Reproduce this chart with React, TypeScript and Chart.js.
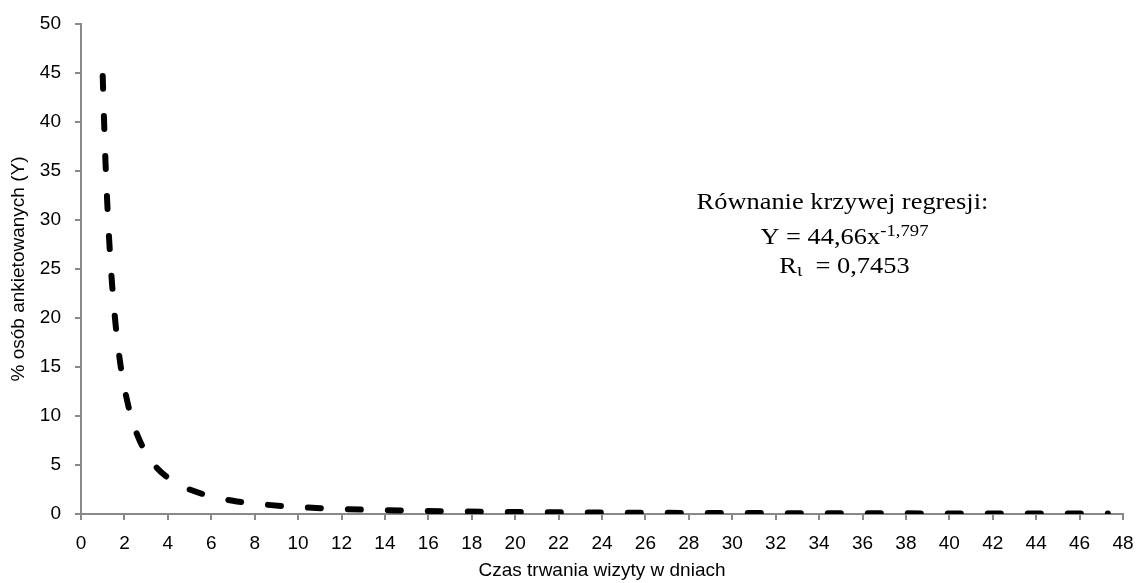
import React, { useEffect, useRef } from 'react';
import { Chart, registerables } from 'chart.js';

Chart.register(...registerables);

// Trend curve: days of visit (x) vs % of respondents (y)
const visitDays = [1, 1.1, 1.2, 1.3, 1.4, 1.5, 1.6, 1.8, 2, 2.25, 2.5, 3, 3.5, 4, 4.5, 5, 6, 7, 8, 10, 12, 14, 17, 20, 24, 28, 32, 36, 40, 44, 47.3];
const respondentsPct = [44.7, 37.6, 32.2, 27.9, 24.4, 21.6, 19.2, 15.5, 12.9, 10.4, 8.6, 6.2, 4.7, 3.7, 3.0, 2.5, 1.8, 1.35, 1.06, 0.71, 0.51, 0.39, 0.27, 0.2, 0.15, 0.11, 0.09, 0.07, 0.06, 0.05, 0.045];

const xRange = [0, 48];
const xStep = 2;
const yRange = [0, 50];
const yStep = 5;

const xAxisTitle = 'Czas trwania wizyty w dniach';
const yAxisTitle = '% osób ankietowanych (Y)';

const noteTitle = 'Równanie krzywej regresji:';
const noteEquation = 'Y = 44,66x';
const noteExponent = '-1,797';
const noteRLetter = 'R';
const noteRSub = 'ι';
const noteRValue = '  = 0,7453';

const AXIS_GRAY = '#898989';
const TICK_FONT = { family: '"Liberation Sans", Arial, sans-serif', size: 19 };
const TITLE_FONT = { family: '"Liberation Sans", Arial, sans-serif', size: 19 };

const SERIF = '"Liberation Serif", "Times New Roman", serif';
const STRETCH = 1.1;

function drawRun(ctx: CanvasRenderingContext2D, parts: { text: string; size: number; dy: number }[], cx: number, baseline: number) {
  const widths = parts.map((p) => {
    ctx.font = `${p.size}px ${SERIF}`;
    return ctx.measureText(p.text).width;
  });
  const total = widths.reduce((a, b) => a + b, 0);
  ctx.save();
  ctx.translate(cx, baseline);
  ctx.scale(STRETCH, 1);
  let x = -total / 2;
  parts.forEach((p, i) => {
    ctx.font = `${p.size}px ${SERIF}`;
    ctx.fillText(p.text, x, p.dy);
    x += widths[i];
  });
  ctx.restore();
}

const notePlugin = {
  id: 'regressionNote',
  afterDraw(chart: any) {
    const { ctx } = chart;
    const xs = chart.scales.x;
    const ys = chart.scales.y;
    const cx = xs.getPixelForValue(35.17);
    ctx.save();
    ctx.fillStyle = '#000';
    ctx.textBaseline = 'alphabetic';
    ctx.textAlign = 'left';
    drawRun(ctx, [{ text: noteTitle, size: 24, dy: 0 }], cx - 2, ys.getPixelForValue(31.1));
    drawRun(
      ctx,
      [
        { text: noteEquation, size: 24, dy: 0 },
        { text: noteExponent, size: 17, dy: -8 },
      ],
      cx,
      ys.getPixelForValue(27.6)
    );
    drawRun(
      ctx,
      [
        { text: noteRLetter, size: 24, dy: 0 },
        { text: noteRSub, size: 18, dy: 3 },
        { text: noteRValue, size: 24, dy: 0 },
      ],
      cx,
      ys.getPixelForValue(24.6)
    );
    ctx.restore();
  },
};

export default function App() {
  const canvasRef = useRef<HTMLCanvasElement | null>(null);

  useEffect(() => {
    if (!canvasRef.current) return;
    const points = visitDays.map((d, i) => ({ x: d, y: respondentsPct[i] }));
    const chart = new Chart(canvasRef.current, {
      type: 'scatter',
      data: {
        datasets: [
          {
            data: points,
            showLine: true,
            borderColor: '#000',
            borderWidth: 6,
            borderDash: [13, 27],
            borderCapStyle: 'round',
            cubicInterpolationMode: 'monotone',
            pointRadius: 0,
            pointHoverRadius: 0,
            fill: false,
          },
        ],
      },
      options: {
        animation: false,
        responsive: true,
        maintainAspectRatio: false,
        layout: { padding: { top: 24, right: 13, left: 0, bottom: 0 } },
        plugins: {
          legend: { display: false },
          tooltip: { enabled: false },
        },
        scales: {
          x: {
            type: 'linear',
            min: xRange[0],
            max: xRange[1],
            ticks: {
              stepSize: xStep,
              color: '#000',
              font: TICK_FONT,
              padding: 12,
              maxRotation: 0,
              autoSkip: false,
            },
            grid: {
              display: true,
              drawOnChartArea: false,
              drawTicks: true,
              tickLength: 6,
              color: AXIS_GRAY,
              lineWidth: 2,
            },
            border: { display: true, color: AXIS_GRAY, width: 2 },
            title: {
              display: true,
              text: xAxisTitle,
              color: '#000',
              font: TITLE_FONT,
              padding: { top: 0, bottom: 1 },
            },
            afterFit(scale: any) {
              scale.height = 69;
              scale.paddingLeft = 0;
              scale.paddingRight = 0;
            },
          },
          y: {
            type: 'linear',
            min: yRange[0],
            max: yRange[1],
            ticks: {
              stepSize: yStep,
              color: '#000',
              font: TICK_FONT,
              padding: 14,
            },
            grid: {
              display: true,
              drawOnChartArea: false,
              drawTicks: true,
              tickLength: 6,
              color: AXIS_GRAY,
              lineWidth: 2,
            },
            border: { display: true, color: AXIS_GRAY, width: 2 },
            title: {
              display: true,
              text: yAxisTitle,
              color: '#000',
              font: TITLE_FONT,
              padding: { top: 7, bottom: 0 },
            },
            afterFit(scale: any) {
              scale.width = 81;
              scale.paddingTop = 0;
              scale.paddingBottom = 0;
            },
          },
        },
      },
      plugins: [notePlugin],
    });
    return () => chart.destroy();
  }, []);

  return (
    <div style={{ position: 'fixed', left: 0, top: 0, width: 1136, height: 583, background: '#fff' }}>
      <canvas ref={canvasRef} />
    </div>
  );
}
